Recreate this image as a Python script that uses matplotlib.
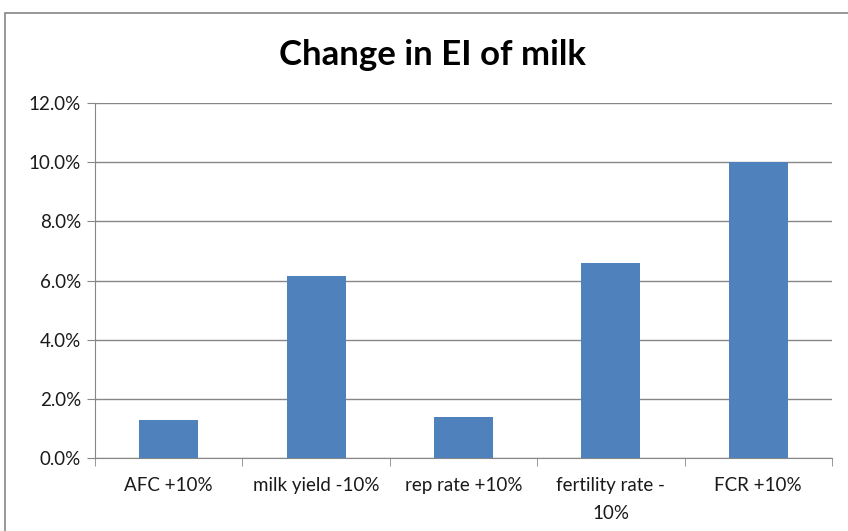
import matplotlib
matplotlib.use("Agg")
import matplotlib.pyplot as plt
from matplotlib.patches import Rectangle
from matplotlib.ticker import FuncFormatter, MultipleLocator, FixedLocator

# scenario labels and change in emission intensity (%)
categories = ["AFC +10%", "milk yield -10%", "rep rate +10%", "fertility rate -\n10%", "FCR +10%"]
changes = [1.3, 6.15, 1.4, 6.6, 10.0]

W, H = 848, 531
fig = plt.figure(figsize=(W / 100, H / 100), dpi=100)
plt.rcParams["font.family"] = "Lato"

# chart border (runs off the right and bottom edge)
fig.patches.append(Rectangle((5 / W, -0.1), 1.2, 1 - 13 / H + 0.1, transform=fig.transFigure,
                             fill=False, edgecolor="#868686", linewidth=1.2))

ax = fig.add_axes([95 / W, 1 - 458 / H, (832 - 95) / W, (458 - 103) / H])

x = range(len(categories))
ax.bar(x, changes, width=0.4, color="#4f81bd", zorder=3)

ax.set_xlim(-0.5, len(categories) - 0.5)
ax.set_ylim(0, 12)
ax.yaxis.set_major_locator(MultipleLocator(2))
ax.yaxis.set_major_formatter(FuncFormatter(lambda v, p: f"{v:.1f}%"))
ax.grid(axis="y", color="#868686", linewidth=1, zorder=0)

ax.set_xticks(list(x))
ax.set_xticklabels(categories, fontsize=13.5, color="#1a1a1a", linespacing=1.75)
ax.xaxis.set_minor_locator(FixedLocator([i - 0.5 for i in range(len(categories) + 1)]))
ax.tick_params(axis="x", which="major", length=0, pad=14)
ax.tick_params(axis="x", which="minor", length=6, color="#868686")
ax.tick_params(axis="y", length=6, color="#868686", labelsize=13.5, labelcolor="#1a1a1a", pad=4)

for side in ["top", "right"]:
    ax.spines[side].set_visible(False)
ax.spines["left"].set_color("#868686")
ax.spines["bottom"].set_color("#868686")

fig.text(432 / W, 1 - 55 / H, "Change in EI of milk", ha="center", va="center",
         fontsize=25, fontweight="bold")

fig.savefig("out.png", dpi=100)
